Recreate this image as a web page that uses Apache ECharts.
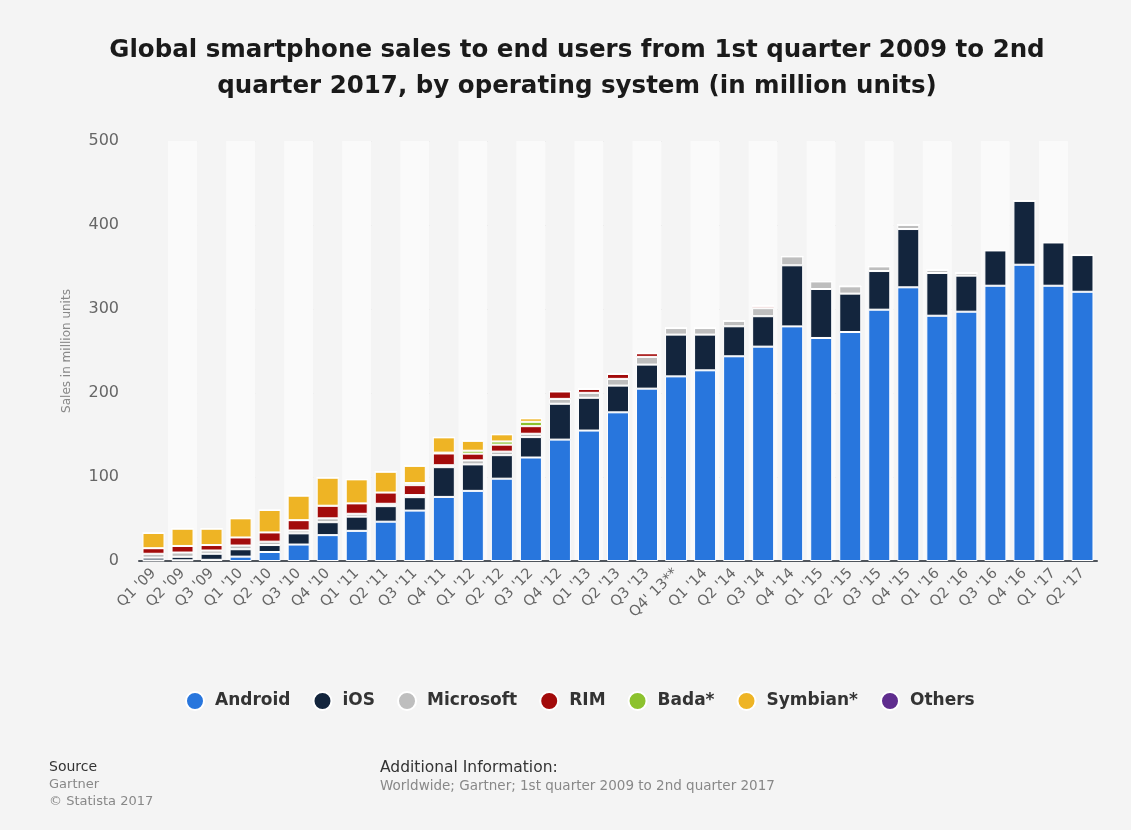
<!DOCTYPE html>
<html>
<head>
<meta charset="utf-8">
<script src="https://cdn.jsdelivr.net/npm/echarts@6/dist/echarts.min.js"></script>
<style>
  html, body { margin: 0; padding: 0; background: #f4f4f4; }
  #chart { width: 1131px; height: 830px; }
</style>
</head>
<body>
<div id="chart"></div>
<script>
// quarters on the x axis
const quarters = ["Q1 '09", "Q2 '09", "Q3 '09", "Q1 '10", "Q2 '10", "Q3 '10", "Q4 '10",
  "Q1 '11", "Q2 '11", "Q3 '11", "Q4 '11", "Q1 '12", "Q2 '12", "Q3 '12", "Q4 '12",
  "Q1 '13", "Q2 '13", "Q3 '13", "Q4' 13**", "Q1 '14", "Q2 '14", "Q3 '14", "Q4 '14",
  "Q1 '15", "Q2 '15", "Q3 '15", "Q4 '15", "Q1 '16", "Q2 '16", "Q3 '16", "Q4 '16",
  "Q1 '17", "Q2 '17"];

// sales in million units
const android = [0.6, 0.8, 1.4, 5.2, 10.7, 19.6, 30.8, 35.9, 46.8, 60.0, 76.3, 83.5, 98.0,
  123.2, 144.5, 155.3, 177.0, 205.2, 219.8, 227.0, 243.7, 255.2, 279.3, 265.5, 272.6,
  299.2, 325.8, 292.0, 296.8, 327.7, 352.7, 327.7, 320.5];
const ios = [3.4, 4.2, 7.2, 8.8, 8.3, 13.3, 15.4, 16.9, 18.5, 16.0, 35.4, 31.5, 28.0,
  24.3, 42.7, 39.0, 31.8, 28.6, 49.7, 42.5, 35.7, 36.2, 72.7, 58.3, 45.7,
  46.0, 69.4, 50.9, 42.9, 42.0, 76.2, 51.5, 43.7];
const microsoft = [4.6, 5.1, 3.9, 4.4, 4.0, 3.4, 4.6, 3.4, 2.8, 2.5, 2.3, 4.8, 4.2,
  4.0, 5.8, 5.9, 8.0, 9.2, 7.8, 7.8, 6.6, 9.6, 10.6, 9.0, 8.7,
  5.5, 5.1, 3.8, 3.1, 0, 0, 0, 0];
const rim = [6.6, 7.8, 6.5, 9.6, 11.0, 12.3, 15.0, 12.4, 13.4, 11.8, 14.0, 8.0, 8.3,
  9.0, 8.8, 4.7, 5.9, 4.3, 0, 0, 0, 2.8, 0, 0, 0,
  0, 0, 0, 0, 0, 0, 0, 0];
const bada = [0, 0, 0, 0, 0, 0, 0, 0, 0, 2.5, 1.0, 3.5, 3.8,
  5.2, 0, 0, 0, 0, 0, 0, 0, 0, 0, 0, 0,
  0, 0, 0, 0, 0, 0, 0, 0];
const symbian = [18.2, 20.6, 19.5, 22.8, 26.7, 29.2, 33.4, 28.6, 24.8, 20.5, 18.2, 11.8, 8.5,
  4.1, 0, 0, 0, 0, 0, 0, 0, 0, 0, 0, 0,
  0, 0, 0, 0, 0, 0, 0, 0];
const others = quarters.map(() => 0);

const SERIES = [
  { name: 'Android', data: android, color: '#2876dd' },
  { name: 'iOS', data: ios, color: '#13253d' },
  { name: 'Microsoft', data: microsoft, color: '#bebebe' },
  { name: 'RIM', data: rim, color: '#a30b0b' },
  { name: 'Bada*', data: bada, color: '#8cc22e' },
  { name: 'Symbian*', data: symbian, color: '#eeb425' },
  { name: 'Others', data: others, color: '#5f2d8e' },
];

const FONT = 'DejaVu Sans';
const chart = echarts.init(document.getElementById('chart'));

chart.setOption({
  backgroundColor: '#f4f4f4',
  animation: false,
  color: SERIES.map((s) => s.color),
  title: [
    {
      text: 'Global smartphone sales to end users from 1st quarter 2009 to 2nd\nquarter 2017, by operating system (in million units)',
      left: 572,
      top: 28,
      textAlign: 'center',
      textStyle: { fontFamily: FONT, fontSize: 24.5, fontWeight: 'bold', color: '#1a1a1a', lineHeight: 36 },
    },
    {
      text: 'Source',
      left: 44,
      top: 755,
      textStyle: { fontFamily: FONT, fontSize: 14, fontWeight: 'normal', color: '#333' },
    },
    {
      text: 'Gartner\n© Statista 2017',
      left: 44,
      top: 771,
      textStyle: { fontFamily: FONT, fontSize: 13, fontWeight: 'normal', color: '#888', lineHeight: 17 },
    },
    {
      text: 'Additional Information:',
      left: 375,
      top: 755,
      textStyle: { fontFamily: FONT, fontSize: 15.5, fontWeight: 'normal', color: '#333' },
    },
    {
      text: 'Worldwide; Gartner; 1st quarter 2009 to 2nd quarter 2017',
      left: 375,
      top: 774,
      textStyle: { fontFamily: FONT, fontSize: 13.5, fontWeight: 'normal', color: '#888' },
    },
  ],
  legend: {
    top: 686,
    left: 180,
    icon: 'circle',
    itemWidth: 18,
    itemHeight: 18,
    itemGap: 22,
    textStyle: { fontFamily: FONT, fontSize: 17, fontWeight: 'bold', color: '#333', padding: [0, 0, 0, 6] },
    data: SERIES.map((s) => s.name),
  },
  grid: { left: 139, right: 34, top: 141, bottom: 269 },
  xAxis: {
    type: 'category',
    data: quarters,
    axisLine: { lineStyle: { color: '#50555c', width: 2 } },
    axisTick: { show: false },
    splitArea: { show: true, areaStyle: { color: ['#f4f4f4', '#fafafa'] } },
    axisLabel: {
      rotate: 45,
      interval: 0,
      margin: 10,
      fontFamily: FONT,
      fontSize: 14.5,
      color: '#666',
    },
  },
  yAxis: {
    type: 'value',
    min: 0,
    max: 500,
    interval: 100,
    name: 'Sales in million units',
    nameLocation: 'middle',
    nameGap: 66,
    nameTextStyle: { fontFamily: FONT, fontSize: 12, color: '#888' },
    axisLine: { show: false },
    axisTick: { show: false },
    axisLabel: { margin: 20, fontFamily: FONT, fontSize: 16, color: '#666' },
    splitLine: { lineStyle: { type: 'dotted', color: '#cfcfcf', width: 1 } },
  },
  series: SERIES.map((s) => ({
    name: s.name,
    type: 'bar',
    stack: 'total',
    barWidth: 22,
    data: s.data,
    itemStyle: { color: s.color, borderColor: '#ffffff', borderWidth: 1 },
  })),
});
</script>
</body>
</html>
